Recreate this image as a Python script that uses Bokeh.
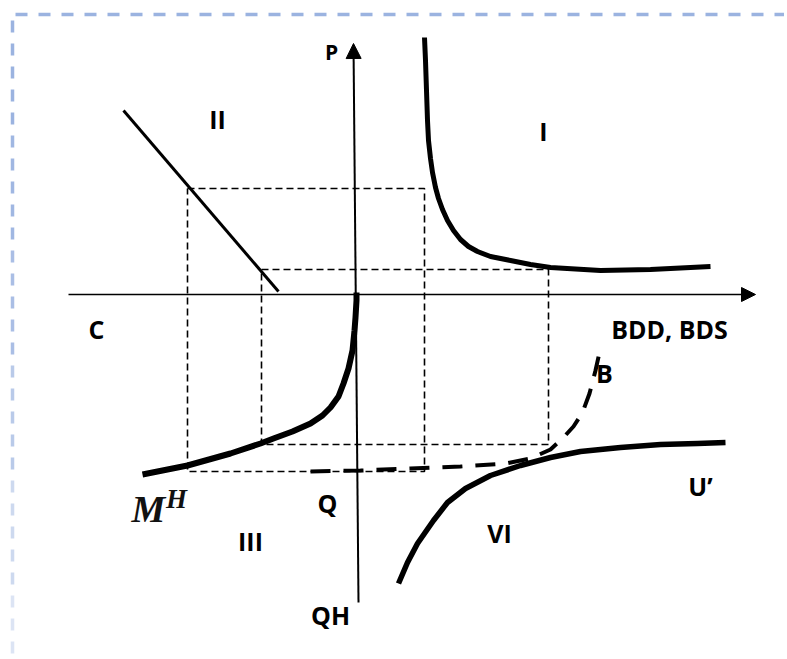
from bokeh.plotting import figure
from bokeh.models import Range1d, Arrow, NormalHead
from bokeh.core.properties import value
from bokeh.embed import file_html
from bokeh.resources import INLINE

# ---- schematic data (origin at the crossing of the axes, 1 unit = 1 px, y up) ----
# axes
axis_h_x = [-287, 400]
axis_h_y = [0, 0]
axis_v_x = [3, -2]
axis_v_y = [-308, 251]

# quadrant II : straight line C
line2_x = [-232, -77]
line2_y = [184, 3]

# quadrant I : curve
curve1_x = [69, 70, 71, 72, 73, 75, 77, 80, 83, 87, 92, 98, 105, 113, 122, 135, 155, 175, 195, 245, 295, 355]
curve1_y = [257, 234, 204, 174, 154, 136, 122, 107, 96, 85, 74, 64, 55, 48, 43, 38, 34, 30, 27, 24, 25, 28]

# quadrant III : curve M^H
curve3_x = [-213, -168, -125, -95, -82, -63, -45, -33, -25, -17, -12, -7, -3, -1, 0, 1, 1]
curve3_y = [-180, -171, -159, -149, -144, -137, -129, -121, -113, -102, -89, -74, -56, -36, -23, -6, 2]

# quadrant VI : curve U'
curve6_x = [43, 52, 62, 78, 92, 110, 135, 165, 195, 225, 265, 305, 342, 370]
curve6_y = [-289, -268, -249, -226, -208, -194, -181, -171, -163, -157, -153, -150, -149, -148]

# dashed curve B
curveB_x = [-45, 5, 55, 105, 150, 175, 195, 207, 218, 227, 234, 240, 244]
curveB_y = [-177, -176, -174, -172, -169, -164, -155, -144, -132, -118, -99, -76, -58]

# dashed construction rectangles
rect1_x = [-168, 69, 69, -168, -168]
rect1_y = [106, 106, -177, -177, 106]
rect2_x = [-94, 193, 193, -94, -94]
rect2_y = [25, 25, -150, -150, 25]

# labels (x centre, baseline y)
lab_text = ["P", "II", "I", "C", "BDD, BDS", "B", "U\u2019", "Q", "III", "QH", "VI"]
lab_x = [-24, -138, 188, -259, 314, 249, 345, -28, -105, -25, 144]
lab_y = [243, 176, 164, -34, -34, -78, -191, -208, -246, -320, -238]
lab_size = ["21px", "25px", "25px", "25px", "25px", "25px", "25px", "25px", "25px", "25px", "25px"]

# decorative frame of the slide
frame_top_x = [-340, 440]
frame_top_y = [280, 280]
frame_left_x = -343
frame_left_y = [274, 159, 44, -71, -186, -301, -370]
frame_left_alpha = [1.0, 0.95, 0.85, 0.7, 0.5, 0.35]

W, H = 784, 656
p = figure(width=W, height=H, x_range=Range1d(-355, -355 + W), y_range=Range1d(294 - H, 294),
           output_backend="svg", toolbar_location=None, x_axis_type=None, y_axis_type=None,
           min_border=0, outline_line_color=None, background_fill_color="white",
           border_fill_color="white")

FRAME = "#9bb3e0"
p.line(frame_top_x, frame_top_y, line_color=FRAME, line_width=3.5, line_dash="12 11")
for i in range(len(frame_left_alpha)):
    p.line([frame_left_x, frame_left_x], [frame_left_y[i], frame_left_y[i + 1]],
           line_color=FRAME, line_width=3.5, line_dash="12 11", line_alpha=frame_left_alpha[i])

# construction rectangles
p.line(rect1_x, rect1_y, line_color="black", line_width=1.6, line_dash="7 4")
p.line(rect2_x, rect2_y, line_color="black", line_width=1.6, line_dash="7 4")

# axes with arrows
p.add_layout(Arrow(x_start=axis_h_x[0], y_start=axis_h_y[0], x_end=axis_h_x[1], y_end=axis_h_y[1],
                   line_width=1.6, line_color="black",
                   end=NormalHead(size=14, fill_color="black", line_color="black", line_width=1)))
p.add_layout(Arrow(x_start=axis_v_x[0], y_start=axis_v_y[0], x_end=axis_v_x[1], y_end=axis_v_y[1],
                   line_width=2, line_color="black",
                   end=NormalHead(size=15, fill_color="black", line_color="black", line_width=1)))

# curves
p.line(line2_x, line2_y, line_color="black", line_width=3)
p.line(curve1_x, curve1_y, line_color="black", line_width=5, line_join="round")
p.line(curve3_x, curve3_y, line_color="black", line_width=6, line_join="round")
p.line(curve6_x, curve6_y, line_color="black", line_width=5.5, line_join="round")
p.line(curveB_x, curveB_y, line_color="black", line_width=4, line_dash="20 13")

# labels
p.text(x=lab_x, y=lab_y, text=lab_text, text_font=value("Open Sans"), text_font_style="bold",
       text_font_size=lab_size, text_align="center", text_baseline="alphabetic", text_color="black")

# M^H (math italic)
p.text(x=[-207], y=[-214], text=["M"], text_font=value("Liberation Serif"),
       text_font_style="bold italic", text_font_size="38px", text_align="center",
       text_baseline="alphabetic", text_color="#111111")
p.text(x=[-179], y=[-204], text=["H"], text_font=value("Liberation Serif"),
       text_font_style="bold italic", text_font_size="27px", text_align="center",
       text_baseline="alphabetic", text_color="#111111")

open("out.html", "w").write(file_html(p, INLINE))
